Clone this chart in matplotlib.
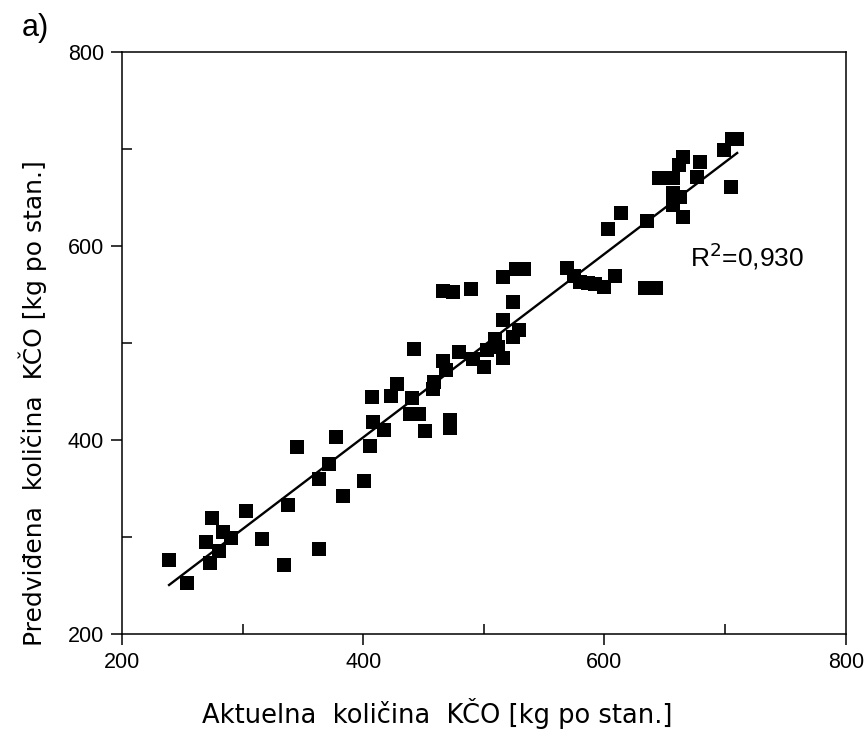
import matplotlib.pyplot as plt
from matplotlib.ticker import MultipleLocator

# --- data ---
actual = [239, 254, 273, 275, 270, 280, 284, 290, 303, 316, 334, 338, 345,
          363, 363, 372, 377, 383, 401, 406, 407, 408, 417, 423, 428, 439,
          446, 451, 440, 442, 458, 459, 466, 469, 472, 472, 466, 474, 489,
          479, 491, 500, 503, 509, 512, 516, 516, 524, 524, 529, 516, 527,
          533, 569, 575, 580, 586, 592, 600, 609, 634, 643, 635, 603, 614,
          645, 657, 662, 665, 679, 677, 657, 663, 657, 665, 699, 706, 710,
          705]
predicted = [276, 253, 273, 320, 295, 286, 305, 299, 327, 298, 271, 333, 393,
             360, 288, 375, 403, 342, 358, 394, 444, 418, 410, 445, 458, 427,
             427, 409, 443, 494, 452, 460, 481, 472, 421, 412, 553, 552, 555,
             491, 483, 475, 493, 504, 496, 484, 524, 542, 506, 513, 568, 576,
             576, 577, 569, 563, 562, 561, 558, 569, 557, 557, 626, 617, 634,
             670, 670, 683, 691, 686, 671, 654, 650, 642, 630, 699, 710, 710,
             661]

# regression line end points
fit_x = [239, 710]
fit_y = [250.5, 695.6]
r2_label = "R$^2$=0,930"

fig = plt.figure(figsize=(8.68, 7.36), dpi=100)
ax = fig.add_axes([0.1406, 0.1386, 0.8337, 0.7912])

ax.plot(actual, predicted, 's', color='black', markersize=9.8, markeredgewidth=0)
ax.plot(fit_x, fit_y, color='black', linewidth=1.7)

ax.set_xlim(200, 800)
ax.set_ylim(200, 800)
ax.xaxis.set_major_locator(MultipleLocator(200))
ax.yaxis.set_major_locator(MultipleLocator(200))
ax.xaxis.set_minor_locator(MultipleLocator(100))
ax.yaxis.set_minor_locator(MultipleLocator(100))
ax.tick_params(which='major', direction='out', length=8, width=1.1,
               labelsize=15.5, pad=5)
ax.tick_params(which='minor', direction='in', length=7, width=1.1)
for lab in ax.get_xticklabels() + ax.get_yticklabels():
    lab.set_family('Liberation Sans')
for sp in ax.spines.values():
    sp.set_linewidth(1.1)

ax.text(671, 589, r2_label, fontsize=19, family='Liberation Sans', va='center')

ax.set_xlabel("Aktuelna  količina  KČO [kg po stan.]", fontsize=18.5,
              family='DejaVu Sans', va='center')
ax.xaxis.set_label_coords(0.436, -0.136)
ax.set_ylabel("Predviđena  količina  KČO [kg po stan.]", fontsize=18,
              family='DejaVu Sans', va='center')
ax.yaxis.set_label_coords(-0.123, 0.397)

fig.text(0.025, 0.962, "a)", fontsize=22, family='Liberation Sans', va='center')

fig.savefig("out.png", dpi=100)
